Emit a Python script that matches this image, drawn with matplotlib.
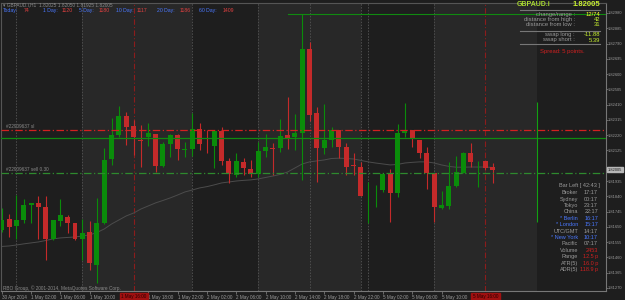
import matplotlib
matplotlib.use("Agg")
import matplotlib.pyplot as plt

# GBPAUD.i H1 candles, 30 Apr 22:00 .. 5 May 17:00 (broker time)
opens = [1.81631, 1.81697, 1.81657, 1.81693, 1.81786, 1.81797, 1.81776, 1.81573, 1.81689, 1.81713,
         1.81672, 1.81573, 1.81619, 1.81413, 1.81676, 1.82070, 1.82221, 1.82340, 1.82277, 1.82190,
         1.82207, 1.82228, 1.82029, 1.82163, 1.82221, 1.82130, 1.82132, 1.82257, 1.82165, 1.82153,
         1.82248, 1.82062, 1.81975, 1.82055, 1.82008, 1.81977, 1.82124, 1.82141, 1.82139, 1.82219,
         1.82207, 1.82232, 1.82756, 1.82356, 1.82139, 1.82190, 1.82253, 1.82149, 1.82032, 1.82024,
         1.81716, 1.81877, 1.81879, 1.81979, 1.81863, 1.82232, 1.82253, 1.82190, 1.82111, 1.81983,
         1.81766, 1.81782, 1.81904, 1.81987, 1.82108, 1.82053, 1.82060, 1.82025]
highs = [1.81766, 1.81730, 1.81848, 1.81823, 1.81800, 1.81842, 1.81842, 1.81693, 1.81823, 1.81724,
         1.81674, 1.81699, 1.81689, 1.81830, 1.82141, 1.82325, 1.82402, 1.82364, 1.82315, 1.82284,
         1.82296, 1.82228, 1.82180, 1.82228, 1.82228, 1.82180, 1.82356, 1.82296, 1.82253, 1.82253,
         1.82269, 1.82078, 1.82110, 1.82078, 1.82066, 1.82180, 1.82226, 1.82170, 1.82319, 1.82460,
         1.82352, 1.82974, 1.82802, 1.82397, 1.82414, 1.82273, 1.82253, 1.82170, 1.82108, 1.82055,
         1.81931, 1.81910, 1.81979, 1.82008, 1.82290, 1.82422, 1.82253, 1.82190, 1.82145, 1.81983,
         1.81873, 1.82055, 1.82091, 1.82118, 1.82170, 1.82062, 1.82060, 1.82050]
lows = [1.81619, 1.81589, 1.81575, 1.81674, 1.81674, 1.81575, 1.81444, 1.81569, 1.81656, 1.81612,
        1.81569, 1.81444, 1.81382, 1.81301, 1.81668, 1.82035, 1.82209, 1.82159, 1.82097, 1.82024,
        1.82153, 1.81993, 1.82021, 1.82085, 1.82066, 1.82086, 1.82091, 1.82128, 1.82108, 1.82014,
        1.82035, 1.81925, 1.81962, 1.81973, 1.81962, 1.81962, 1.82083, 1.81973, 1.82118, 1.82134,
        1.82128, 1.81942, 1.82310, 1.81931, 1.82103, 1.82145, 1.82076, 1.81973, 1.81973, 1.81844,
        1.81672, 1.81772, 1.81865, 1.81682, 1.81838, 1.82207, 1.82145, 1.82076, 1.81884, 1.81682,
        1.81759, 1.81759, 1.81900, 1.81983, 1.82024, 1.81900, 1.82004, 1.81925]
closes = [1.81693, 1.81647, 1.81693, 1.81786, 1.81797, 1.81776, 1.81573, 1.81693, 1.81724, 1.81672,
          1.81573, 1.81614, 1.81426, 1.81672, 1.82066, 1.82221, 1.82340, 1.82273, 1.82209, 1.82184,
          1.82232, 1.82029, 1.82165, 1.82221, 1.82132, 1.82132, 1.82257, 1.82163, 1.82163, 1.82248,
          1.82062, 1.81979, 1.82062, 1.82014, 1.81977, 1.82124, 1.82145, 1.82137, 1.82215, 1.82205,
          1.82232, 1.82756, 1.82346, 1.82142, 1.82190, 1.82253, 1.82149, 1.82024, 1.82029, 1.81844,
          1.81718, 1.81879, 1.81979, 1.81863, 1.82232, 1.82246, 1.82195, 1.82111, 1.81983, 1.81772,
          1.81786, 1.81904, 1.81989, 1.82111, 1.82055, 1.82055, 1.82018, 1.82005]
ma = [1.81528, 1.81531, 1.81537, 1.81544, 1.81550, 1.81556, 1.81565, 1.81575, 1.81581, 1.81584,
      1.81587, 1.81593, 1.81600, 1.81615, 1.81637, 1.81668, 1.81693, 1.81718, 1.81736, 1.81761,
      1.81780, 1.81799, 1.81814, 1.81830, 1.81848, 1.81867, 1.81879, 1.81892, 1.81900, 1.81911,
      1.81923, 1.81929, 1.81935, 1.81939, 1.81942, 1.81948, 1.81957, 1.81966, 1.81976, 1.81991,
      1.82016, 1.82041, 1.82054, 1.82060, 1.82066, 1.82075, 1.82077, 1.82075, 1.82072, 1.82063,
      1.82054, 1.82047, 1.82041, 1.82035, 1.82038, 1.82047, 1.82051, 1.82054, 1.82054, 1.82047,
      1.82035, 1.82026, 1.82021, 1.82021, 1.82022, 1.82022, 1.82022, 1.82019]

price_ticks = [1.82980, 1.82885, 1.82790, 1.82695, 1.82600, 1.82505, 1.82410, 1.82315, 1.82220,
               1.82125, 1.81935, 1.81840, 1.81745, 1.81650, 1.81555, 1.81460, 1.81365, 1.81270]
time_ticks = [0, 4, 8, 12, 20, 24, 28, 32, 36, 40, 44, 48, 52, 56, 60]
time_labels = ["30 Apr 2014", "1 May 02:00", "1 May 06:00", "1 May 10:00", "1 May 18:00",
               "1 May 22:00", "2 May 02:00", "2 May 06:00", "2 May 10:00", "2 May 14:00",
               "2 May 18:00", "2 May 22:00", "5 May 02:00", "5 May 06:00", "5 May 10:00"]
session_bands = [(11, 26), (35, 49), (59, 73)]
day_lines = [2, 11, 26, 35, 42, 49, 50, 59]
ny_lines = [18, 66]
ny_labels = ["1 May 16:00", "5 May 16:00"]

stop_loss = 1.82253
sell_price = 1.81985
open_line = 1.82203
high_line = 1.82974
bid = 1.82005

BG = "#1e1e1e"
BAND = "#282828"
GREEN = "#0a8c0a"
RED = "#c42a2a"
GRAY = "#9a9a9a"
BLUE = "#4a78ff"
FONT = ["Liberation Sans", "DejaVu Sans"]

fig = plt.figure(figsize=(6.25, 3.0), dpi=100, facecolor=BG)
ax = fig.add_axes([1 / 625, 9 / 300, 605 / 625, 288 / 300], facecolor=BG)
x_left, x_right = (1 - 1.7) / 7.33, (606 - 1.7) / 7.33
ax.set_xlim(x_left, x_right)
ax.set_ylim(1.81251, 1.83042)

for a, b in session_bands:
    ax.axvspan(a, b, color=BAND, lw=0, zorder=0)
for d in day_lines:
    ax.axvline(d, color="#4e4e4e", lw=0.7, ls=(0, (1.5, 1.5)), zorder=1)
for d in ny_lines:
    ax.axvline(d, color="#8c1c1c", lw=0.8, ls=(0, (5, 2, 1, 2)), zorder=1)

# moving average
ax.plot(range(len(ma)), ma, color="#4c4c4c", lw=0.7, zorder=2)

# candles
for i in range(len(opens)):
    o, h, l, c = opens[i], highs[i], lows[i], closes[i]
    col = GREEN if c >= o else RED
    ax.vlines(i, l, h, color=col, lw=0.8, zorder=3)
    body = max(abs(c - o), 0.00002)
    ax.bar(i, body, width=0.68, bottom=min(o, c), color=col, lw=0, zorder=4)

# trade and level lines
ax.axhline(stop_loss, color="#d42020", lw=0.9, ls=(0, (6, 2, 1, 2)), zorder=5)
ax.axhline(open_line, color="#108a10", lw=0.9, zorder=5)
ax.axhline(sell_price, color="#2e8a2e", lw=0.9, ls=(0, (6, 2, 1, 2)), zorder=5)
ax.plot([39.1, x_right], [high_line, high_line], color="#108a10", lw=0.8, zorder=5)
ax.vlines(73, 1.81680, 1.82427, color="#12a012", lw=0.8, zorder=5)

ax.text(0.6, stop_loss + 0.00004, "#22909637 sl", color="#8a8a8a", fontsize=3.4,
        family=FONT, va="bottom", zorder=6)
ax.text(0.6, sell_price + 0.00004, "#22909637 sell 0.30", color="#8a8a8a", fontsize=3.4,
        family=FONT, va="bottom", zorder=6)

# axes styling
for s in ["left", "top"]:
    ax.spines[s].set_color("#555555")
for s in ["right", "bottom"]:
    ax.spines[s].set_color("#777777")
ax.yaxis.tick_right()
ax.set_yticks(price_ticks)
ax.set_yticklabels([f"{p:.5f}" for p in price_ticks])
ax.tick_params(axis="y", colors="#777777", labelcolor=GRAY, labelsize=2.9, length=1.2, width=0.6, pad=0.3)
ax.set_xticks(time_ticks)
ax.set_xticklabels(time_labels)
ax.tick_params(axis="x", colors="#777777", labelcolor=GRAY, labelsize=3.3, length=2, width=0.6, pad=1)
for t in ax.get_xticklabels() + ax.get_yticklabels():
    t.set_family(FONT)
for t in ax.get_xticklabels():
    t.set_ha("left")

ax.text(x_right + 0.25, bid, f"{bid:.5f}", color="#1e1e1e", fontsize=2.9, family=FONT,
        va="center", ha="left", clip_on=False, zorder=7,
        bbox=dict(boxstyle="square,pad=0.15", fc="#b8b8b8", ec="#b8b8b8"))

# red time labels of the vertical lines
for d, lab in zip(ny_lines, ny_labels):
    ax.text(d, -0.012, lab, transform=ax.get_xaxis_transform(), color="#2a0000", fontsize=3.3,
            family=FONT, ha="center", va="top", clip_on=False, zorder=7,
            bbox=dict(boxstyle="square,pad=0.3", fc="#a01010", ec="#a01010"))


def ftext(x, y, s, color=GRAY, size=4.2, ha="left", weight="normal"):
    fig.text(x / 625, 1 - y / 300, s, color=color, fontsize=size, ha=ha, va="center",
             family=FONT, weight=weight)


# header
ftext(3, 4.5, "\u25be GBPAUD.i,H1  1.82025 1.82050 1.81925 1.82005", color="#8a8a8a", size=3.4)
today = [("Today:", "74", 3, 24), ("1 Day:", "1120", 43, 62), ("5 Day:", "1180", 79, 99),
         ("10 Day:", "1117", 116, 137), ("20 Day:", "1186", 157, 180), ("60 Day:", "1409", 199, 223)]
for lab, val, lx, vx in today:
    ftext(lx, 10.5, lab, color=BLUE, size=3.7)
    ftext(vx, 10.5, val, color="#e04040", size=3.7)

# symbol panel
ftext(517, 5, "GBPAUD.i", color="#a8d830", size=5, weight="bold")
ftext(600, 5, "1.82005", color="#c8f030", size=5.5, ha="right", weight="bold")
fig.add_artist(plt.Line2D([520 / 625, 600 / 625], [1 - 10 / 300] * 2, color="#777777", lw=0.8))
rows = [("change/range :", "12/74", 14.5, "#ffff30"), ("distance from high :", "42", 19.5, "#c8f030"),
        ("distance from low :", "31", 25, "#c8f030")]
for lab, val, y, vc in rows:
    ftext(575, y, lab, size=4.2, ha="right")
    ftext(600, y, val, color=vc, size=4.2, ha="right")
fig.add_artist(plt.Line2D([520 / 625, 600 / 625], [1 - 30.5 / 300] * 2, color="#777777", lw=0.8))
ftext(575, 34.7, "swap long :", size=4.2, ha="right")
ftext(600, 34.7, "-11.88", color="#c8f030", size=4.2, ha="right")
ftext(575, 40, "swap short :", size=4.2, ha="right")
ftext(600, 40, "5.39", color="#c8f030", size=4.2, ha="right")
fig.add_artist(plt.Line2D([520 / 625, 600 / 625], [1 - 43.5 / 300] * 2, color="#777777", lw=0.8))
ftext(562, 51.7, "Spread: 5 points.", color="#d02020", size=4.2, ha="center")

# clock panel
ftext(600, 186, "Bar Left [ 42:43 ]", size=4, ha="right")
clock = [("Broker", "17:17", GRAY), ("Sydney", "00:17", GRAY), ("Tokyo", "23:17", GRAY),
         ("China", "22:17", GRAY), ("* Berlin", "16:17", BLUE), ("* London", "15:17", BLUE),
         ("UTC/GMT", "14:17", GRAY), ("* New York", "10:17", BLUE), ("Pacific", "07:17", GRAY)]
y = 192.7
for lab, val, col in clock:
    ftext(578, y, lab, color=col, size=4, ha="right")
    ftext(598, y, val, color=col, size=4, ha="right")
    y += 6.4
stats = [("Volume", "2453"), ("Range", "12.5 p"), ("ATR(5)", "16.0 p"), ("ADR(5)", "118.9 p")]
for lab, val in stats:
    ftext(578, y, lab, size=4, ha="right")
    ftext(598, y, val, color="#d02020", size=4, ha="right")
    y += 6.4

ftext(3, 288, "RBO Group, \u00a9 2001-2014, MetaQuotes Software Corp.", color="#8a8a8a", size=3.4)

fig.savefig("out.png", dpi=100, facecolor=BG)
